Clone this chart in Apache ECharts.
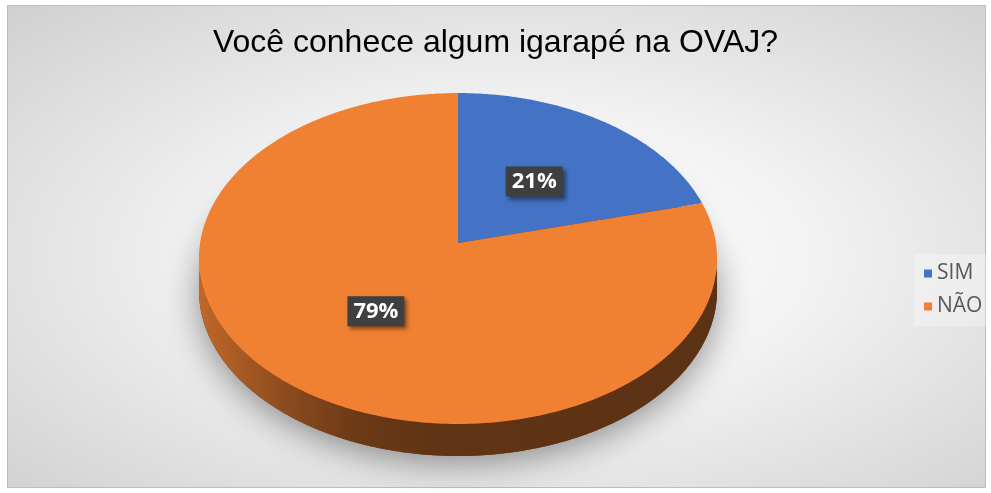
<!DOCTYPE html>
<html><head><meta charset="utf-8">
<script src="https://cdn.jsdelivr.net/npm/echarts@6/dist/echarts.min.js"></script>
<style>
html,body{margin:0;padding:0;background:#fff;}
#bg{position:absolute;left:7px;top:5px;width:977px;height:481px;border:1px solid #bdbdbd;
background:radial-gradient(ellipse farthest-corner at 52% 52%, #ffffff 0%, #f3f3f3 40%, #d0d0d0 100%);}
#chart{position:absolute;left:0;top:0;width:991px;height:493px;}
</style></head><body><div id="bg"></div><div id="chart"></div>
<script>
const titleText = 'Você conhece algum igarapé na OVAJ?';
const categories = ['SIM', 'NÃO'];
const values = [21, 79];
const colors = ['#4472C4', '#F08133'];

const total = values.reduce((a, b) => a + b, 0);
const starts = [];
let acc = 0;
values.forEach(v => { starts.push(acc); acc += v; });

// layout of the tilted pie (perspective projection)
const CX = 458, CY = 243, A = 164, B = 257.9, P = 0.0937, D = 32;
function proj(theta, f) {
  const X = f * Math.sin(theta), Z = f * Math.cos(theta);
  const den = 1 + P * Z;
  return [CX + B * X / den, CY - A * Z / den];
}
function arc(t0, t1, dy) {
  const n = Math.max(2, Math.ceil((t1 - t0) / 0.01));
  const pts = [];
  for (let i = 0; i <= n; i++) {
    const t = t0 + (t1 - t0) * i / n;
    const p = proj(t, 1);
    pts.push([p[0], p[1] + dy]);
  }
  return pts;
}
function shade(hex, k) {
  const n = parseInt(hex.slice(1), 16);
  const r = Math.round(((n >> 16) & 255) * k), g = Math.round(((n >> 8) & 255) * k), b = Math.round((n & 255) * k);
  return 'rgb(' + r + ',' + g + ',' + b + ')';
}
function sideGrad(c) {
  return { type: 'linear', global: true, x: CX - B * 1.004, y: 0, x2: CX + B * 1.004, y2: 0,
    colorStops: [
      { offset: 0, color: shade(c, 0.8) },
      { offset: 0.17, color: shade(c, 0.58) },
      { offset: 0.3, color: shade(c, 0.45) },
      { offset: 0.45, color: shade(c, 0.4) },
      { offset: 1, color: shade(c, 0.385) }
    ] };
}

function renderItem(params, api) {
  const start = api.value(0), val = api.value(1), tot = api.value(2);
  const t0 = start / tot * 2 * Math.PI, t1 = (start + val) / tot * 2 * Math.PI;
  const c = colors[params.seriesIndex];
  const children = [];
  children.push({ type: 'polygon', z2: 0, silent: true,
    shape: { points: [[CX, CY + D]].concat(arc(t0, t1, D)) },
    style: { fill: shade(c, 0.4), shadowBlur: 34, shadowColor: 'rgba(0,0,0,0.42)', shadowOffsetY: 7 } });
  const s0 = Math.acos(-P), s1 = 2 * Math.PI - s0;
  const a = Math.max(t0, s0), b = Math.min(t1, s1);
  if (b > a) {
    const top = arc(a, b, 0), bot = arc(a, b, D).reverse();
    children.push({ type: 'polygon', z2: 1, silent: true,
      shape: { points: top.concat(bot) }, style: { fill: sideGrad(c) } });
  }
  children.push({ type: 'polygon', z2: 2,
    shape: { points: [[CX, CY]].concat(arc(t0, t1, 0)) }, style: { fill: c } });
  const lp = proj((t0 + t1) / 2, 0.5);
  children.push({ type: 'text', z2: 3, x: lp[0], y: lp[1] + 1,
    style: { text: Math.round(val / tot * 100) + '%', fill: '#ffffff', fontSize: 22, fontWeight: 'bold',
      fontFamily: 'Open Sans', align: 'center', verticalAlign: 'middle',
      backgroundColor: '#3f3f3f', padding: [16, 6, 0, 6], lineHeight: 14,
      shadowColor: 'rgba(0,0,0,0.45)', shadowBlur: 4, shadowOffsetX: 3, shadowOffsetY: 3 } });
  return { type: 'group', children };
}

const chart = echarts.init(document.getElementById('chart'));
chart.setOption({
  animation: false,
  title: { text: titleText, left: 'center', top: 22,
    textStyle: { fontFamily: 'Liberation Sans', fontSize: 32, fontWeight: 'normal', color: '#000' } },
  legend: { orient: 'vertical', left: 914, top: 254, padding: [9, 6, 9, 10], itemGap: 12,
    itemWidth: 8, itemHeight: 8, icon: 'rect', data: categories,
    backgroundColor: 'rgba(255,255,255,0.3)',
    textStyle: { fontSize: 21, color: '#595959', fontFamily: 'Open Sans' } },
  series: categories.map((name, i) => ({
    type: 'custom', name: name, coordinateSystem: 'none',
    itemStyle: { color: colors[i] },
    renderItem: renderItem,
    data: [[starts[i], values[i], total]]
  }))
});
</script></body></html>
